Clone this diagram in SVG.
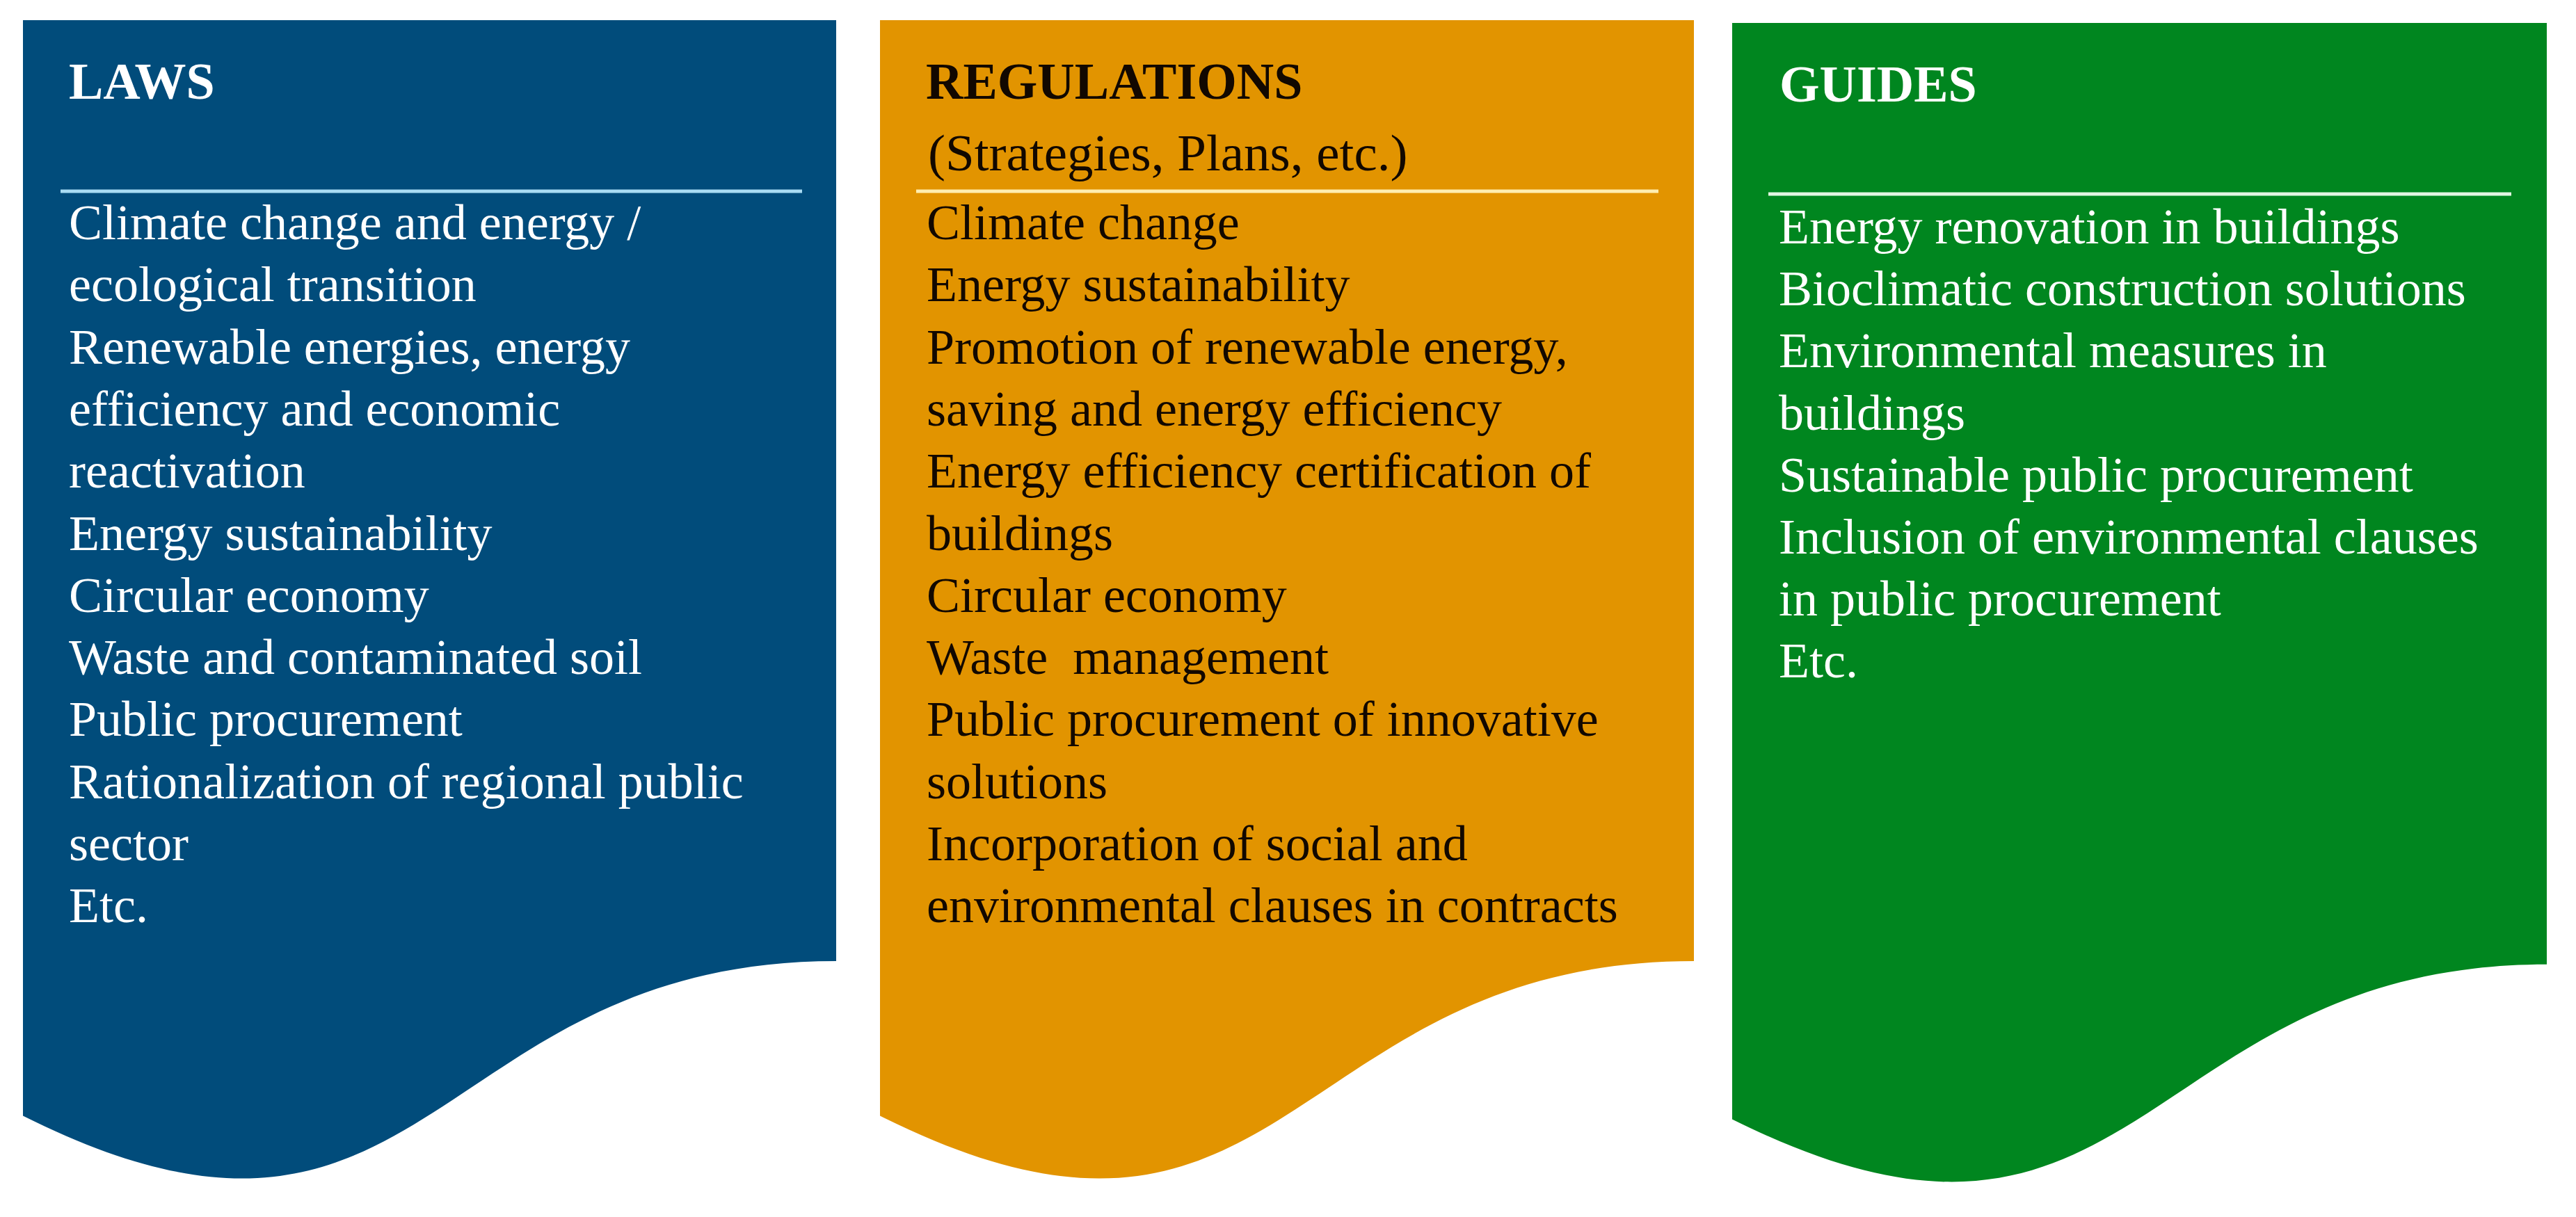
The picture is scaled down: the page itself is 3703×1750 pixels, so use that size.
<svg xmlns="http://www.w3.org/2000/svg" width="3703" height="1750" viewBox="0 0 3703 1750">
  <style>
    .title { font-family: "Liberation Serif", "Times New Roman", serif; font-weight: bold; font-size: 74px; }
    .sub { font-family: "Liberation Serif", "Times New Roman", serif; font-size: 75px; }
    .body { font-family: "Liberation Serif", "Times New Roman", serif; font-size: 72px; }
    .light { fill: #ffffff; }
    .dark { fill: #120800; }
    .sep { stroke-width: 5; fill: none; }
  </style>
  <rect width="3703" height="1750" fill="#ffffff"/>

  <g id="laws">
    <path d="M33,29 H1202 V1382 C617.5,1382 617.5,1897.4 33,1604.5 Z" fill="#014C7B"/>
    <text class="title light" x="99" y="142">LAWS</text>
    <line class="sep" x1="87" y1="275" x2="1153" y2="275" stroke="#a9dcf3"/>
    <text class="body light">
      <tspan x="99" y="344">Climate change and energy /</tspan>
      <tspan x="99" dy="89.3">ecological transition</tspan>
      <tspan x="99" dy="89.3">Renewable energies, energy</tspan>
      <tspan x="99" dy="89.3">efficiency and economic</tspan>
      <tspan x="99" dy="89.3">reactivation</tspan>
      <tspan x="99" dy="89.3">Energy sustainability</tspan>
      <tspan x="99" dy="89.3">Circular economy</tspan>
      <tspan x="99" dy="89.3">Waste and contaminated soil</tspan>
      <tspan x="99" dy="89.3">Public procurement</tspan>
      <tspan x="99" dy="89.3">Rationalization of regional public</tspan>
      <tspan x="99" dy="89.3">sector</tspan>
      <tspan x="99" dy="89.3">Etc.</tspan>
    </text>
  </g>

  <g id="regulations">
    <path d="M1265,29 H2435 V1382 C1850,1382 1850,1897.4 1265,1604.5 Z" fill="#E29400"/>
    <text class="title dark" x="1331" y="142">REGULATIONS</text>
    <text class="sub dark" x="1334" y="245">(Strategies, Plans, etc.)</text>
    <line class="sep" x1="1317" y1="275" x2="2384" y2="275" stroke="#ffeeb0"/>
    <text class="body dark" xml:space="preserve"><tspan x="1332" y="344">Climate change</tspan><tspan x="1332" dy="89.3">Energy sustainability</tspan><tspan x="1332" dy="89.3">Promotion of renewable energy,</tspan><tspan x="1332" dy="89.3">saving and energy efficiency</tspan><tspan x="1332" dy="89.3">Energy efficiency certification of</tspan><tspan x="1332" dy="89.3">buildings</tspan><tspan x="1332" dy="89.3">Circular economy</tspan><tspan x="1332" dy="89.3">Waste  management</tspan><tspan x="1332" dy="89.3">Public procurement of innovative</tspan><tspan x="1332" dy="89.3">solutions</tspan><tspan x="1332" dy="89.3">Incorporation of social and</tspan><tspan x="1332" dy="89.3">environmental clauses in contracts</tspan></text>
  </g>

  <g id="guides">
    <path d="M2490,33 H3661 V1386.7 C3075.5,1386.7 3075.5,1902.5 2490,1609.4 Z" fill="#00861F"/>
    <text class="title light" x="2558" y="146">GUIDES</text>
    <line class="sep" x1="2542" y1="279" x2="3610" y2="279" stroke="#e2f6e2"/>
    <text class="body light">
      <tspan x="2557" y="350">Energy renovation in buildings</tspan>
      <tspan x="2557" dy="89.2">Bioclimatic construction solutions</tspan>
      <tspan x="2557" dy="89.2">Environmental measures in</tspan>
      <tspan x="2557" dy="89.2">buildings</tspan>
      <tspan x="2557" dy="89.2">Sustainable public procurement</tspan>
      <tspan x="2557" dy="89.2">Inclusion of environmental clauses</tspan>
      <tspan x="2557" dy="89.2">in public procurement</tspan>
      <tspan x="2557" dy="89.2">Etc.</tspan>
    </text>
  </g>

  <g id="connectors"/>
</svg>
